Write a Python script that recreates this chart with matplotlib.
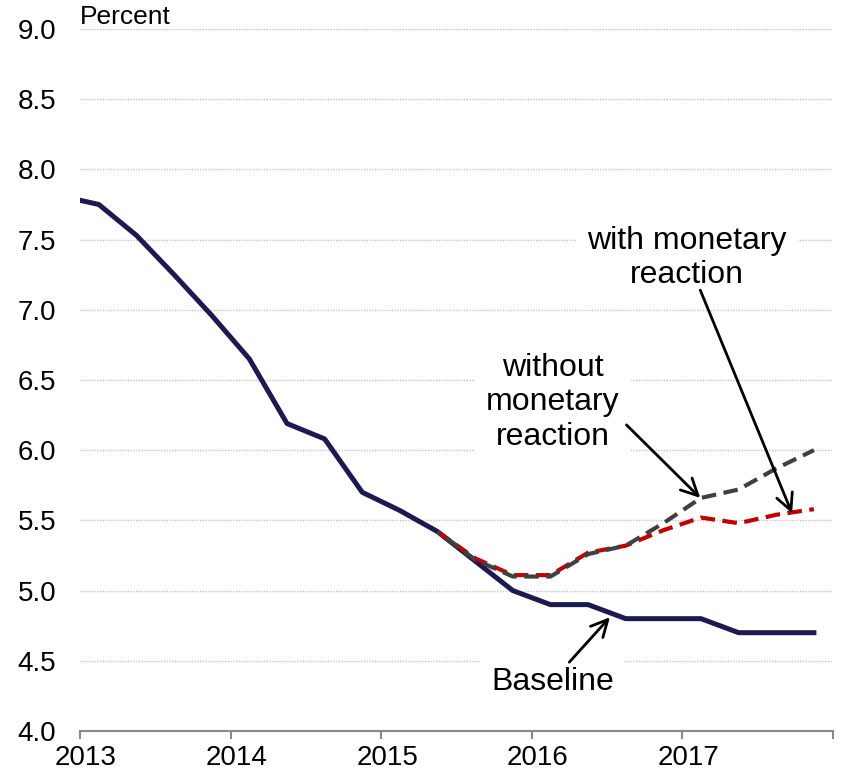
#!/usr/bin/env python3
"""Unemployment-style path: baseline vs. scenarios with/without monetary reaction."""

import matplotlib
matplotlib.use('Agg')
import matplotlib.pyplot as plt

plt.rcParams['font.family'] = ['Liberation Sans', 'DejaVu Sans']

# %% Data (quarterly)
QUARTERS = ['2012Q4',
            '2013Q1', '2013Q2', '2013Q3', '2013Q4',
            '2014Q1', '2014Q2', '2014Q3', '2014Q4',
            '2015Q1', '2015Q2', '2015Q3', '2015Q4',
            '2016Q1', '2016Q2', '2016Q3', '2016Q4',
            '2017Q1', '2017Q2', '2017Q3', '2017Q4']
BASELINE = [7.81,
            7.75, 7.53, 7.25, 6.96,
            6.65, 6.19, 6.08, 5.70,
            5.57, 5.42, 5.21, 5.00,
            4.90, 4.90, 4.80, 4.80,
            4.80, 4.70, 4.70, 4.70]

SCEN_QUARTERS = ['2015Q2', '2015Q3', '2015Q4',
                 '2016Q1', '2016Q2', '2016Q3', '2016Q4',
                 '2017Q1', '2017Q2', '2017Q3', '2017Q4']
NO_REACTION = [5.42, 5.22, 5.10,
               5.10, 5.26, 5.32, 5.48,
               5.66, 5.72, 5.87, 6.00]
WITH_REACTION = [5.42, 5.23, 5.11,
                 5.11, 5.27, 5.32, 5.43,
                 5.52, 5.48, 5.54, 5.58]

YEARS = [2013, 2014, 2015, 2016, 2017, 2018]
YEAR_LABELS = ['2013', '2014', '2015', '2016', '2017']
Y_TICKS = [4.0, 4.5, 5.0, 5.5, 6.0, 6.5, 7.0, 7.5, 8.0, 8.5, 9.0]


def q_to_x(q):
    """'2015Q3' -> mid-quarter fractional year."""
    year, qtr = q.split('Q')
    return int(year) + (int(qtr) - 1) * 0.25 + 0.125


NAVY = '#1c1a50'
GREY = '#404040'
RED = '#c00000'

fig = plt.figure(figsize=(8.42, 7.75), dpi=100)
ax = fig.add_axes([0.095, 0.0568, 0.894, 0.9058])

x_base = [q_to_x(q) for q in QUARTERS]
x_scen = [q_to_x(q) for q in SCEN_QUARTERS]

ax.plot(x_base, BASELINE, color=NAVY, linewidth=3.6, zorder=3)
ax.plot(x_scen, WITH_REACTION, color=RED, linewidth=3.0,
        linestyle=(0, (3.5, 1.8)), zorder=4)
ax.plot(x_scen, NO_REACTION, color=GREY, linewidth=3.0,
        linestyle=(2.6, (3.5, 1.8)), zorder=5)

ax.set_xlim(2013, 2018)
ax.set_ylim(4.0, 9.0)
ax.set_yticks(Y_TICKS)
ax.set_yticklabels([f'{v:.1f}' for v in Y_TICKS])

# tick marks on year boundaries, labels nudged slightly right (minor ticks)
ax.set_xticks(YEARS)
ax.set_xticklabels([])
ax.set_xticks([y + 0.04 for y in YEARS[:-1]], minor=True)
ax.set_xticklabels(YEAR_LABELS, minor=True)

ax.grid(axis='y', color='#c4c4c4', linestyle=(0, (1, 1)), linewidth=1.0,
        zorder=0)
for side in ['left', 'right', 'top']:
    ax.spines[side].set_visible(False)
ax.spines['bottom'].set_color('#888888')
ax.spines['bottom'].set_linewidth(1.5)
ax.tick_params(axis='y', length=0, labelsize=20, pad=17)
ax.tick_params(axis='x', which='major', length=6, width=1.5, color='#888888')
ax.tick_params(axis='x', which='minor', length=0, labelsize=20, pad=10)

ax.text(2013.0, 9.0, 'Percent', fontsize=19, ha='left', va='bottom')

# annotations
box = dict(facecolor='white', edgecolor='none', pad=8)
arrow = dict(arrowstyle='->', color='black', lw=2, mutation_scale=30,
             shrinkA=0, shrinkB=0)

ax.text(2017.03, 7.37, 'with monetary\nreaction', fontsize=23,
        ha='center', va='center', bbox=box, zorder=6)
ax.annotate('', xy=(2017.73, 5.55), xytext=(2017.12, 7.14),
            arrowprops=arrow, zorder=7)

ax.text(2016.14, 6.34, 'without\nmonetary\nreaction', fontsize=23,
        ha='center', va='center', bbox=box, zorder=6)
ax.annotate('', xy=(2017.12, 5.66), xytext=(2016.63, 6.18),
            arrowprops=arrow, zorder=7)

ax.text(2016.14, 4.35, 'Baseline', fontsize=23, ha='center', va='center',
        bbox=box, zorder=6)
ax.annotate('', xy=(2016.52, 4.81), xytext=(2016.25, 4.49),
            arrowprops=arrow, zorder=7)

fig.savefig('out.png', dpi=100)
